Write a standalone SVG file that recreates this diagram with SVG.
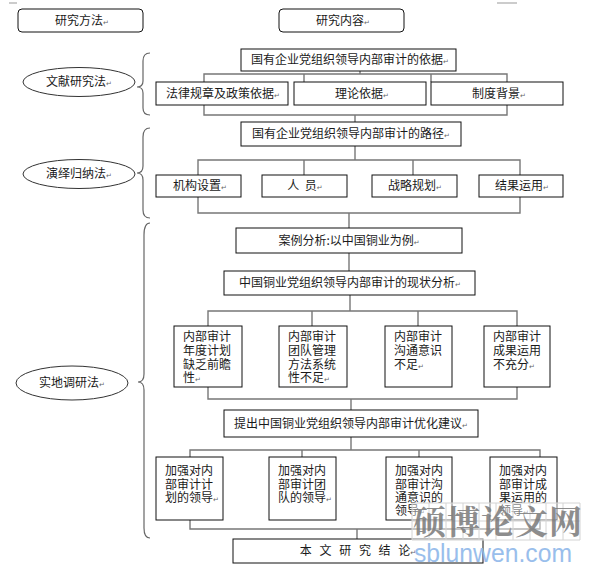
<svg xmlns="http://www.w3.org/2000/svg" width="596" height="574" viewBox="0 0 596 574">
<style>
text{font-family:"Noto Sans CJK SC","Liberation Sans",sans-serif;font-size:12px;fill:#1a1a1a}
.c{text-anchor:middle}
.r{font-family:"DejaVu Sans",sans-serif;font-size:7px;fill:#666}
.box{fill:#fff;stroke:#111;stroke-width:1}
.ell{fill:#fff;stroke:#333;stroke-width:1}
.conn{fill:none;stroke:#777;stroke-width:1.4}
.brace{fill:none;stroke:#666;stroke-width:1.2}
.wm{font-family:"Noto Serif CJK SC","Noto Sans CJK SC",sans-serif;font-size:33px;font-weight:bold;fill:#7a7a7a;opacity:0.85}
.grid{fill:none;stroke:#d4d4d4;stroke-width:1}
</style>
<rect width="596" height="574" fill="#fff"/>
<line x1="9" y1="3" x2="17" y2="3" stroke="#999" stroke-width="1"/>
<line x1="497" y1="3" x2="517" y2="3" stroke="#999" stroke-width="1"/>

<g id="connectors">
  <path class="conn" d="M360,71 V74 M204,74 H507 V115 H204 Z M304,74 V82 M431,74 V82"/>
  <path class="conn" d="M355,115 V122"/>
  <path class="conn" d="M355,146 V160 M198,160 H520 V213 H198 Z M304,160 V175 M413,160 V175"/>
  <path class="conn" d="M349,213 V228"/>
  <path class="conn" d="M349,253 V271"/>
  <path class="conn" d="M350,295 V311 M208,311 H517 V399 H208 Z M312,311 V326 M418,311 V326"/>
  <path class="conn" d="M351,399 V410"/>
  <path class="conn" d="M351,437 V450 M190,450 H540 V529 H190 Z M302,450 V457 M419,450 V457"/>
  <path class="conn" d="M357,529 V539"/>
</g>

<g id="braces">
  <path class="brace" d="M150,53 Q143,53 143,61 L143,81 Q143,87 137,87 Q143,87 143,93 L143,108 Q143,115 150,115"/>
  <path class="brace" d="M150,128 Q143,128 143,137 L143,166 Q143,173 137,173 Q143,173 143,180 L143,210 Q143,218 150,218"/>
  <path class="brace" d="M150,223 Q144,223 144,235 L144,374 Q144,382 138,382 Q144,382 144,390 L144,528 Q144,538 150,538"/>
</g>

<g id="h-method">
  <rect class="box" x="18" y="9" width="125" height="23" rx="4"/>
  <text class="c" x="82" y="25">研究方法<tspan class="r">↵</tspan></text>
</g>
<g id="h-content">
  <rect class="box" x="279" y="9" width="125" height="23" rx="4"/>
  <text class="c" x="343" y="25">研究内容<tspan class="r">↵</tspan></text>
</g>

<g id="m1">
  <ellipse class="ell" cx="79" cy="82" rx="56" ry="14.5"/>
  <text class="c" x="79" y="86">文献研究法<tspan class="r">↵</tspan></text>
</g>
<g id="m2">
  <ellipse class="ell" cx="79" cy="174" rx="56" ry="14.5"/>
  <text class="c" x="79" y="178">演绎归纳法<tspan class="r">↵</tspan></text>
</g>
<g id="m3">
  <ellipse class="ell" cx="72" cy="383" rx="56" ry="17"/>
  <text class="c" x="72" y="387">实地调研法<tspan class="r">↵</tspan></text>
</g>

<g id="a">
  <rect class="box" x="241" y="49" width="215" height="22"/>
  <text class="c" x="350" y="64">国有企业党组织领导内部审计的依据<tspan class="r">↵</tspan></text>
</g>
<g id="a1">
  <rect class="box" x="156" y="82" width="132" height="23"/>
  <text class="c" x="223" y="98">法律规章及政策依据<tspan class="r">↵</tspan></text>
</g>
<g id="a2">
  <rect class="box" x="294" y="82" width="132" height="23"/>
  <text class="c" x="362" y="98">理论依据<tspan class="r">↵</tspan></text>
</g>
<g id="a3">
  <rect class="box" x="431" y="82" width="132" height="23"/>
  <text class="c" x="499" y="98">制度背景<tspan class="r">↵</tspan></text>
</g>

<g id="b">
  <rect class="box" x="241" y="122" width="220" height="24"/>
  <text class="c" x="351" y="138">国有企业党组织领导内部审计的路径<tspan class="r">↵</tspan></text>
</g>
<g id="b1">
  <rect class="box" x="156" y="175" width="85" height="22"/>
  <text class="c" x="200" y="190">机构设置<tspan class="r">↵</tspan></text>
</g>
<g id="b2">
  <rect class="box" x="262" y="175" width="85" height="22"/>
  <text class="c" x="305" y="190" xml:space="preserve">人  员<tspan class="r">↵</tspan></text>
</g>
<g id="b3">
  <rect class="box" x="372" y="175" width="85" height="22"/>
  <text class="c" x="415" y="190">战略规划<tspan class="r">↵</tspan></text>
</g>
<g id="b4">
  <rect class="box" x="479" y="175" width="84" height="22"/>
  <text class="c" x="522" y="190">结果运用<tspan class="r">↵</tspan></text>
</g>

<g id="c">
  <rect class="box" x="236" y="228" width="226" height="25"/>
  <text class="c" x="349" y="245">案例分析:以中国铜业为例<tspan class="r">↵</tspan></text>
</g>
<g id="d">
  <rect class="box" x="224" y="271" width="251" height="24"/>
  <text class="c" x="350" y="287">中国铜业党组织领导内部审计的现状分析<tspan class="r">↵</tspan></text>
</g>

<g id="d1">
  <rect class="box" x="174" y="326" width="68" height="61"/>
  <text x="183" y="341">内部审计</text>
  <text x="183" y="355">年度计划</text>
  <text x="183" y="368.5">缺乏前瞻</text>
  <text x="183" y="382">性<tspan class="r">↵</tspan></text>
</g>
<g id="d2">
  <rect class="box" x="279" y="326" width="68" height="61"/>
  <text x="288" y="341">内部审计</text>
  <text x="288" y="355">团队管理</text>
  <text x="288" y="368.5">方法系统</text>
  <text x="288" y="382">性不足<tspan class="r">↵</tspan></text>
</g>
<g id="d3">
  <rect class="box" x="385" y="326" width="67" height="61"/>
  <text x="394" y="341">内部审计</text>
  <text x="394" y="355">沟通意识</text>
  <text x="394" y="368.5">不足<tspan class="r">↵</tspan></text>
</g>
<g id="d4">
  <rect class="box" x="484" y="326" width="66" height="61"/>
  <text x="493" y="341">内部审计</text>
  <text x="493" y="355">成果运用</text>
  <text x="493" y="368.5">不充分<tspan class="r">↵</tspan></text>
</g>

<g id="e">
  <rect class="box" x="224" y="410" width="254" height="27"/>
  <text class="c" x="351" y="428">提出中国铜业党组织领导内部审计优化建议<tspan class="r">↵</tspan></text>
</g>

<g id="e1">
  <rect class="box" x="156" y="457" width="67" height="63"/>
  <text x="165" y="475">加强对内</text>
  <text x="165" y="489">部审计计</text>
  <text x="165" y="502">划的领导<tspan class="r">↵</tspan></text>
</g>
<g id="e2">
  <rect class="box" x="269" y="457" width="67" height="63"/>
  <text x="278" y="475">加强对内</text>
  <text x="278" y="489">部审计团</text>
  <text x="278" y="502">队的领导<tspan class="r">↵</tspan></text>
</g>
<g id="e3">
  <rect class="box" x="386" y="457" width="66" height="63"/>
  <text x="395" y="475">加强对内</text>
  <text x="395" y="489">部审计沟</text>
  <text x="395" y="502">通意识的</text>
  <text x="395" y="515">领导<tspan class="r">↵</tspan></text>
</g>
<g id="e4">
  <rect class="box" x="490" y="457" width="67" height="63"/>
  <text x="499" y="475">加强对内</text>
  <text x="499" y="489">部审计成</text>
  <text x="499" y="502">果运用的</text>
  <text x="499" y="515">领导<tspan class="r">↵</tspan></text>
</g>

<g id="f">
  <rect class="box" x="233" y="539" width="250" height="24"/>
  <text class="c" x="358" y="555" xml:space="preserve" word-spacing="5">本 文 研 究 结 论<tspan class="r">↵</tspan></text>
</g>

<g id="watermark">
  <rect x="412" y="503" width="168" height="37" fill="#fff" opacity="0.45"/>
  <path class="grid" d="M412,503 H580 V540 H412 Z M446,503 V540 M479,503 V540 M513,503 V540 M546,503 V540 M429,503 V540 M463,503 V540 M496,503 V540 M530,503 V540 M563,503 V540 M412,521 H580"/>
  <text class="wm" x="413" y="534" letter-spacing="1">硕博论文网</text>
  <text x="414" y="562" textLength="158" lengthAdjust="spacingAndGlyphs" style="font-family:'Liberation Sans',sans-serif;font-size:26px;fill:#8fb8ea;opacity:0.9">sblunwen.com</text>
</g>
</svg>
